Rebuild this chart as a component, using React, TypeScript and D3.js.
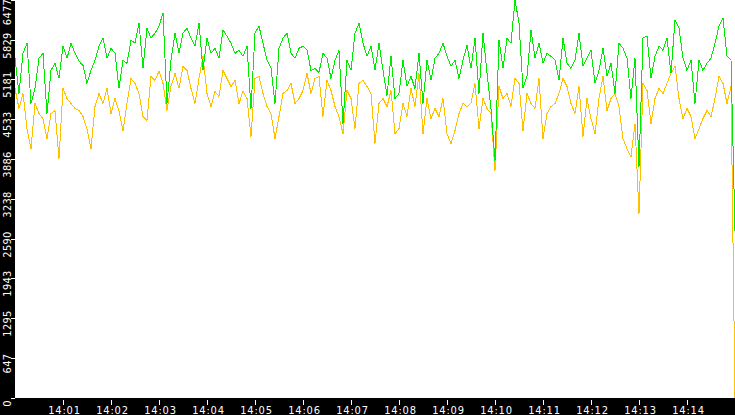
import React from "react";
import * as d3 from "d3";

// ---- data ----
const START_TIME = "14:00:00";
const END_TIME = "14:15:00";
const SAMPLE_SECONDS = 5;

const totalValues = [
  5524, 4951, 5605, 5769, 4788, 5033, 5524, 5605, 4624, 5327,
  5442, 5196, 5720, 5524, 5769, 5605, 5475, 5409, 5115, 5327,
  5491, 5720, 5851, 5524, 5687, 5605, 5033, 5491, 5442, 5818,
  5769, 6096, 5360, 6014, 5851, 5932, 6047, 6260, 4788, 5491,
  5932, 5605, 5932, 6014, 5851, 5720, 6096, 5327, 5851, 5605,
  5687, 5524, 5982, 5883, 5769, 5605, 5654, 5556, 5720, 4706,
  5932, 6047, 5769, 5491, 5360, 4788, 5687, 5851, 5932, 5605,
  5524, 5687, 5720, 5654, 5327, 5360, 5294, 5605, 5524, 5196,
  5491, 5654, 4460, 5491, 5327, 5932, 6096, 5769, 5556, 5720,
  5327, 5769, 5327, 4918, 5556, 4869, 4951, 5491, 5066, 5229,
  5033, 5605, 4788, 5491, 5164, 5524, 5605, 5769, 5556, 5393,
  5491, 5196, 5491, 5736, 5360, 5851, 4951, 5932, 5278, 4706,
  3855, 5818, 5360, 5851, 5769, 6477, 6096, 5033, 5229, 5982,
  5524, 5769, 5442, 5605, 5556, 5491, 5164, 5851, 5442, 5360,
  5491, 5932, 5393, 5524, 5654, 5115, 5327, 5687, 5229, 5442,
  4951, 5769, 5687, 5524, 4869, 5524, 3757, 5851, 5883, 5196,
  5556, 5720, 5654, 5851, 5278, 6145, 6014, 5524, 5327, 5491,
  4788, 5491, 5327, 5442, 5524, 5769, 6047, 6178, 5556, 5491,
  2710,
];

const partValues = [
  5033, 4706, 4951, 4379, 4051, 4788, 4624, 4542, 4215, 4624,
  4673, 3888, 5033, 4869, 4788, 4706, 4673, 4575, 4379, 4051,
  4738, 4951, 4788, 5033, 4624, 4869, 4673, 4346, 4788, 5196,
  5115, 4951, 4575, 4510, 5229, 5164, 5311, 5115, 4673, 5066,
  5278, 5033, 5393, 5327, 5033, 4788, 5196, 5556, 4951, 4738,
  4984, 4902, 5327, 5196, 5066, 5164, 4788, 4984, 4869, 4248,
  5196, 5229, 4951, 4738, 4624, 4215, 4575, 4951, 5000, 5115,
  4788, 4869, 5000, 5278, 4951, 5196, 5229, 4575, 5164, 5000,
  4738, 4575, 4297, 5000, 4869, 4379, 5115, 5164, 5066, 4951,
  4133, 4788, 4869, 4738, 5000, 4297, 4379, 4788, 4575, 5033,
  4738, 5278, 4297, 4869, 4542, 4706, 4575, 4869, 4297, 4133,
  4346, 4624, 4788, 4738, 4788, 5115, 4379, 4869, 4706, 4624,
  3692, 5066, 4869, 4951, 4738, 5196, 5115, 4346, 4951, 4788,
  4706, 5196, 4215, 4624, 4738, 4788, 4951, 5196, 5066, 4788,
  4624, 5066, 4248, 4869, 4542, 4297, 4869, 5229, 4673, 4869,
  4951, 4738, 4215, 4051, 3921, 4460, 2988, 5115, 5000, 4460,
  4869, 5033, 4951, 5115, 5278, 5393, 4869, 4542, 4706, 4575,
  4215, 4379, 4542, 4673, 4575, 4869, 5229, 5115, 4788, 5066,
  0,
];

const yTickValues = [0, 647, 1295, 1943, 2590, 3238, 3886, 4533, 5181, 5829, 6477];
const xTickLabels = [
  "14:01", "14:02", "14:03", "14:04", "14:05", "14:06", "14:07",
  "14:08", "14:09", "14:10", "14:11", "14:12", "14:13", "14:14",
];

const TOTAL_COLOR = "#00ea00";
const PART_COLOR = "#ffc000";

// ---- layout ----
const W = 735;
const H = 415;
const PLOT_LEFT = 15;
const PLOT_BOTTOM = 398;
const FONT = "'Liberation Sans Narrow', 'DejaVu Sans Condensed', 'Liberation Sans', sans-serif";

const parseClock = d3.timeParse("%H:%M:%S");
const parseMinute = d3.timeParse("%H:%M");

export default function App() {
  const t0 = parseClock(START_TIME) as Date;
  const t1 = parseClock(END_TIME) as Date;

  const x = d3.scaleTime().domain([t0, t1]).range([PLOT_LEFT, W]);
  const y = d3.scaleLinear().domain([0, 6477]).range([397.7, -0.3]);

  const times = totalValues.map((_, i) => d3.timeSecond.offset(t0, i * SAMPLE_SECONDS));

  const line = d3
    .line<number>()
    .x((_, i) => x(times[i]))
    .y((d) => y(d));

  const xTicks = xTickLabels.map((l) => ({ label: l, t: parseMinute(l) as Date }));

  return (
    <svg
      width={W}
      height={H}
      style={{ position: "absolute", left: 0, top: 0, display: "block" }}
    >
      <rect x={0} y={0} width={W} height={H} fill="#ffffff" />
      {/* plot lines */}
      <path
        d={line(partValues) || ""}
        fill="none"
        stroke={PART_COLOR}
        strokeWidth={1}
        shapeRendering="crispEdges"
      />
      <path
        d={line(totalValues) || ""}
        fill="none"
        stroke={TOTAL_COLOR}
        strokeWidth={1}
        shapeRendering="crispEdges"
      />
      {/* left axis strip */}
      <rect x={0} y={0} width={PLOT_LEFT} height={H} fill="#000000" />
      {/* bottom axis strip */}
      <rect x={0} y={PLOT_BOTTOM} width={W} height={H - PLOT_BOTTOM} fill="#000000" />
      {yTickValues.map((v) => {
        const yy = Math.round(y(v)) + 0.5;
        const cy = Math.max(yy + 5, 12);
        return (
          <g key={v}>
            <line
              x1={11}
              x2={PLOT_LEFT}
              y1={yy}
              y2={yy}
              stroke="#ffffff"
              strokeWidth={1}
              shapeRendering="crispEdges"
            />
            <text
              transform={`translate(10.5,${cy}) rotate(-90)`}
              textAnchor="middle"
              fill="#ffffff"
              fontFamily={FONT}
              fontSize={11}
              letterSpacing={0.3}
            >
              {v}
            </text>
          </g>
        );
      })}
      {xTicks.map(({ label, t }) => {
        const xx = Math.round(x(t)) + 0.5;
        return (
          <g key={label}>
            <line
              x1={xx}
              x2={xx}
              y1={400}
              y2={405}
              stroke="#ffffff"
              strokeWidth={1}
              shapeRendering="crispEdges"
            />
            <text
              x={xx + 1}
              y={413.5}
              textAnchor="middle"
              fill="#ffffff"
              fontFamily={FONT}
              fontSize={11}
              letterSpacing={0.8}
            >
              {label}
            </text>
          </g>
        );
      })}
    </svg>
  );
}
